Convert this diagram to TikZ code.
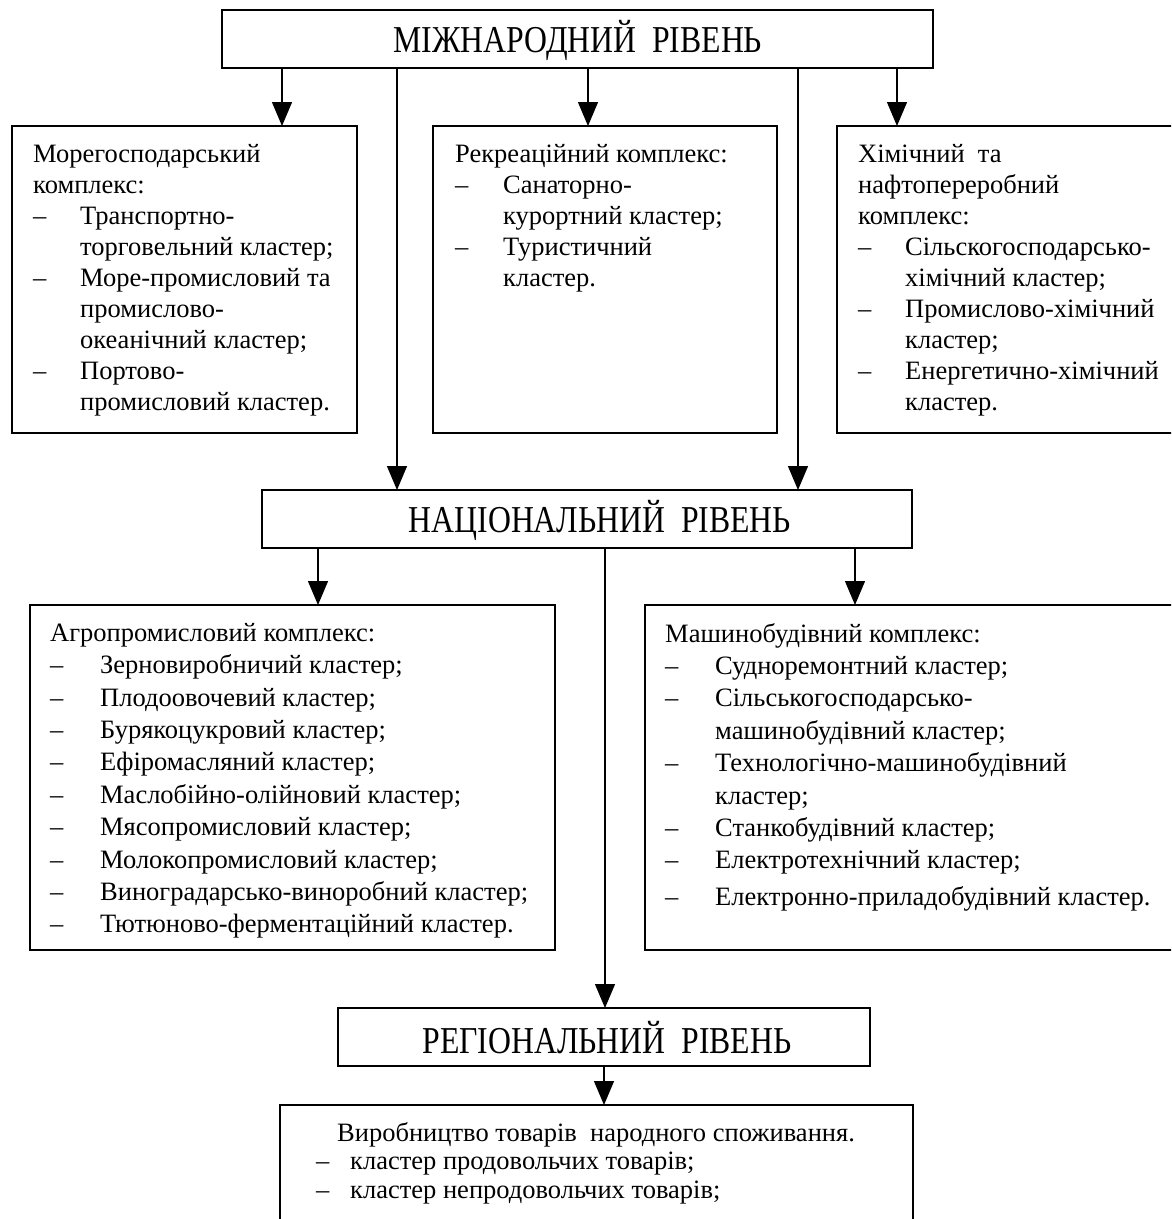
\documentclass[tikz,border=0pt]{standalone}
\usepackage{fontspec}
\setmainfont{Liberation Serif}
\newfontfamily\titlefont[FakeStretch=0.835]{Liberation Serif}
\usetikzlibrary{arrows.meta}
\newcommand{\itm}[2]{\makebox[#1][l]{–}#2}
\newcommand{\cnt}[2]{\hspace*{#1}#2}
\begin{document}
\begin{tikzpicture}[x=1pt,y=-1pt,
  box/.style={draw, line width=1.6pt, inner sep=0pt, outer sep=0pt},
  lvl/.style={inner sep=0pt, font=\titlefont\fontsize{38}{38}\selectfont},
  txt/.style={inner sep=0pt, align=left, anchor=north west, font=\fontsize{26.5}{31}\selectfont},
  txtb/.style={txt, font=\fontsize{26.5}{32.4}\selectfont},
  txtc/.style={txt, font=\fontsize{26.5}{28.5}\selectfont},
  arr/.style={-{Triangle[width=20pt,length=24pt]}, line width=1.3pt}]
\useasboundingbox (0,0) rectangle (1171,1219);
\clip (0,0) rectangle (1171,1219);
% boxes
\node[box, minimum width=711, minimum height=58] (top) at (577.5,39) {};
\node[box, minimum width=345, minimum height=307] (b1) at (184.5,279.5) {};
\node[box, minimum width=344, minimum height=307] (b2) at (605,279.5) {};
\node[box, minimum width=348, minimum height=307] (b3) at (1011,279.5) {};
\node[box, minimum width=650, minimum height=58] (nat) at (587,519) {};
\node[box, minimum width=525, minimum height=345] (b4) at (292.5,777.5) {};
\node[box, minimum width=540, minimum height=345] (b5) at (915,777.5) {};
\node[box, minimum width=532, minimum height=58] (reg) at (604,1037) {};
\node[box, minimum width=633, minimum height=195] (b6) at (596.5,1202.5) {};
% level titles
\node[lvl] (ttop) at (578,40) {МІЖНАРОДНИЙ\ \ РІВЕНЬ};
\node[lvl] (tnat) at (600,520) {НАЦІОНАЛЬНИЙ\ \ РІВЕНЬ};
\node[lvl] (treg) at (607,1038) {РЕГІОНАЛЬНИЙ\ \ РІВЕНЬ};
% texts
\node[txt] (t1) at (33,144) {Морегосподарський\\комплекс:\\\itm{47pt}{Транспортно-}\\\cnt{47pt}{торговельний кластер;}\\\itm{47pt}{Море-промисловий та}\\\cnt{47pt}{промислово-}\\\cnt{47pt}{океанічний кластер;}\\\itm{47pt}{Портово-}\\\cnt{47pt}{промисловий кластер.}};
\node[txt] (t2) at (455,144) {Рекреаційний комплекс:\\\itm{48pt}{Санаторно-}\\\cnt{48pt}{курортний кластер;}\\\itm{48pt}{Туристичний}\\\cnt{48pt}{кластер.}};
\node[txt] (t3) at (858,144) {Хімічний\ \ та\\нафтопереробний\\комплекс:\\\itm{47pt}{Сільскогосподарсько-}\\\cnt{47pt}{хімічний кластер;}\\\itm{47pt}{Промислово-хімічний}\\\cnt{47pt}{кластер;}\\\itm{47pt}{Енергетично-хімічний}\\\cnt{47pt}{кластер.}};
\node[txtb] (t4) at (50,623) {Агропромисловий комплекс:\\\itm{50pt}{Зерновиробничий кластер;}\\\itm{50pt}{Плодоовочевий кластер;}\\\itm{50pt}{Бурякоцукровий кластер;}\\\itm{50pt}{Ефіромасляний кластер;}\\\itm{50pt}{Маслобійно-олійновий кластер;}\\\itm{50pt}{Мясопромисловий кластер;}\\\itm{50pt}{Молокопромисловий кластер;}\\\itm{50pt}{Виноградарсько-виноробний кластер;}\\\itm{50pt}{Тютюново-ферментаційний кластер.}};
\node[txtb] (t5) at (665,623) {Машинобудівний комплекс:\\\itm{50pt}{Судноремонтний кластер;}\\\itm{50pt}{Сільськогосподарсько-}\\\cnt{50pt}{машинобудівний кластер;}\\\itm{50pt}{Технологічно-машинобудівний}\\\cnt{50pt}{кластер;}\\\itm{50pt}{Станкобудівний кластер;}\\\itm{50pt}{Електротехнічний кластер;}\\[4pt]\itm{50pt}{Електронно-приладобудівний кластер.}};
\node[txtc] (t6) at (316,1122) {\cnt{21pt}{Виробництво товарів\ \ народного споживання.}\\\itm{34pt}{кластер продовольчих товарів;}\\\itm{34pt}{кластер непродовольчих товарів;}};
% connectors
\coordinate (x1) at (282,0);
\coordinate (x2) at (397,0);
\coordinate (x3) at (588,0);
\coordinate (x4) at (798,0);
\coordinate (x5) at (897,0);
\coordinate (x6) at (318,0);
\coordinate (x7) at (605,0);
\coordinate (x8) at (855,0);
\coordinate (x9) at (604,0);
\draw[arr] (top.south -| x1) -- (b1.north -| x1);
\draw[arr] (top.south -| x2) -- (nat.north -| x2);
\draw[arr] (top.south -| x3) -- (b2.north -| x3);
\draw[arr] (top.south -| x4) -- (nat.north -| x4);
\draw[arr] (top.south -| x5) -- (b3.north -| x5);
\draw[arr] (nat.south -| x6) -- (b4.north -| x6);
\draw[arr] (nat.south -| x7) -- (reg.north -| x7);
\draw[arr] (nat.south -| x8) -- (b5.north -| x8);
\draw[arr] (reg.south -| x9) -- (b6.north -| x9);
\end{tikzpicture}
\end{document}
